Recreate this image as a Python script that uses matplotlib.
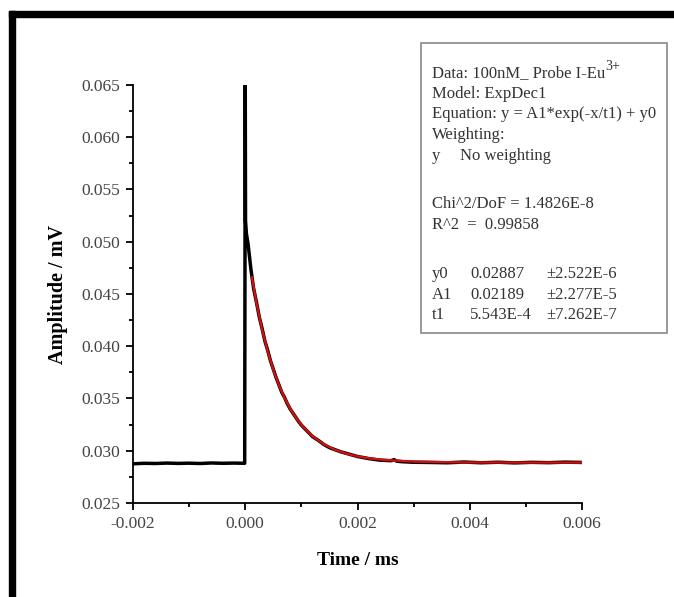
import numpy as np
import matplotlib.pyplot as plt
from matplotlib.patches import Rectangle
from matplotlib.ticker import MultipleLocator

plt.rcParams['font.family'] = ['Liberation Serif', 'DejaVu Serif']

t_data = [-0.0020, -0.0018, -0.0016, -0.0014, -0.0012, -0.0010, -0.0008, -0.0006,
          -0.0004, -0.0002, -0.00001, 0.0, 0.000005, 0.00002, 0.00005, 0.0001,
          0.00015, 0.0002, 0.00025, 0.0003, 0.00035, 0.0004, 0.00045, 0.0005,
          0.00055, 0.0006, 0.00065, 0.0007, 0.00075, 0.0008, 0.00085, 0.0009,
          0.00095, 0.0010, 0.0011, 0.0012, 0.0013, 0.0014, 0.0015, 0.0016,
          0.0017, 0.0018, 0.0019, 0.0020, 0.0022, 0.0024, 0.0026, 0.00265,
          0.0027, 0.0028, 0.0030, 0.0033, 0.0036, 0.0039, 0.0042, 0.0045,
          0.0048, 0.0051, 0.0054, 0.0057, 0.0060]
amp_data = [0.02875, 0.02880, 0.02878, 0.02882, 0.02879, 0.02881, 0.02878, 0.02883,
            0.02880, 0.02882, 0.02880, 0.0650, 0.0520, 0.0508, 0.0498, 0.04740,
            0.04550, 0.04420, 0.04280, 0.04170, 0.04050, 0.03960, 0.03860, 0.03780,
            0.03700, 0.03630, 0.03560, 0.03510, 0.03450, 0.03400, 0.03360, 0.03320,
            0.03280, 0.03245, 0.03190, 0.03135, 0.03100, 0.03060, 0.03030, 0.03010,
            0.02990, 0.02975, 0.02960, 0.02945, 0.02925, 0.02910, 0.02905, 0.02915,
            0.02900, 0.02895, 0.02890, 0.02888, 0.02885, 0.02892, 0.02885, 0.02890,
            0.02884, 0.02889, 0.02886, 0.02891, 0.02888]

# ExpDec1 fit curve
t_fit = [0.00012, 0.0002, 0.0003, 0.0004, 0.0005, 0.0006, 0.0007, 0.0008, 0.0009,
         0.0010, 0.0012, 0.0014, 0.0016, 0.0018, 0.0020, 0.0022, 0.0025, 0.0030,
         0.0035, 0.0040, 0.0050, 0.0060]
amp_fit = [0.04660, 0.04413, 0.04161, 0.03951, 0.03775, 0.03629, 0.03506, 0.03404,
           0.03319, 0.03247, 0.03138, 0.03062, 0.03009, 0.02972, 0.02946, 0.02928,
           0.02911, 0.02897, 0.02891, 0.02888, 0.02887, 0.02887]

box_lines = ['Data: 100nM_ Probe I-Eu', 'Model: ExpDec1',
             'Equation: y = A1*exp(-x/t1) + y0', 'Weighting:']
stat_lines = ['Chi^2/DoF = 1.4826E-8', 'R^2  =  0.99858']
param_names = ['y0', 'A1', 't1']
param_values = ['0.02887', '0.02189', '5.543E-4']
param_errors = ['\u00b12.522E-6', '\u00b12.277E-5', '\u00b17.262E-7']

W, H = 674, 597
fig = plt.figure(figsize=(W / 100, H / 100), dpi=100)
ax = fig.add_axes([133 / W, 1 - 503 / H, (582 - 133) / W, (503 - 85) / H])

ax.plot(t_data, amp_data, color='black', lw=2.5, zorder=2)
ax.plot(t_fit, amp_fit, color='#d01010', lw=1.7, zorder=3)

ax.set_xlim(-0.002, 0.006)
ax.set_ylim(0.025, 0.065)
ax.xaxis.set_major_locator(MultipleLocator(0.002))
ax.xaxis.set_minor_locator(MultipleLocator(0.001))
ax.yaxis.set_major_locator(MultipleLocator(0.005))
ax.yaxis.set_minor_locator(MultipleLocator(0.0025))
ax.xaxis.set_major_formatter(plt.FormatStrFormatter('%.3f'))
ax.yaxis.set_major_formatter(plt.FormatStrFormatter('%.3f'))
for s in ['top', 'right']:
    ax.spines[s].set_visible(False)
for s in ['left', 'bottom']:
    ax.spines[s].set_linewidth(1.3)
ax.tick_params(which='major', direction='out', length=5, width=1.3,
               labelsize=12.5, labelcolor='#444444', pad=4)
ax.tick_params(which='minor', direction='out', length=3, width=1.3)

ax.set_xlabel('Time / ms', fontsize=14, fontweight='bold', labelpad=15)
ax.set_ylabel('Amplitude / mV', fontsize=14.5, fontweight='bold', labelpad=10)

# fit report box
fig.patches.append(Rectangle((421 / W, 1 - 333 / H), (667 - 421) / W, (333 - 43) / H,
                             transform=fig.transFigure, fill=False,
                             edgecolor='#888888', lw=1.2))
tc = '#333333'
fs = 12
kw = dict(fontsize=fs, color=tc, va='baseline')
base = 5
y_rows = [72, 93, 113, 134]
first = None
for yy, txt in zip(y_rows, box_lines):
    t = fig.text(432 / W, 1 - (yy + base) / H, txt, **kw)
    if first is None:
        first = t
fig.canvas.draw()
bb = first.get_window_extent()
fig.text(bb.x1 / W + 0.5 / W, 1 - (72 + base - 7) / H, '3+', fontsize=10, color=tc,
         va='baseline')
fig.text(432 / W, 1 - (155 + base) / H, 'y', **kw)
fig.text(460 / W, 1 - (155 + base) / H, 'No weighting', **kw)
for yy, txt in zip([203, 224], stat_lines):
    fig.text(432 / W, 1 - (yy + base) / H, txt, **kw)
for yy, n, v, e in zip([273, 294, 314], param_names, param_values, param_errors):
    fig.text(432 / W, 1 - (yy + base) / H, n, **kw)
    fig.text(470 / W, 1 - (yy + base) / H, v, **kw)
    fig.text(546 / W, 1 - (yy + base) / H, e, **kw)

# thick black frame on top and left edges
fig.patches.append(Rectangle((9 / W, 1 - 17 / H), (W - 9) / W, 6 / H,
                             transform=fig.transFigure, color='black'))
fig.patches.append(Rectangle((9 / W, 0), 6 / W, 1 - 11 / H,
                             transform=fig.transFigure, color='black'))

fig.savefig('out.png', dpi=100)
